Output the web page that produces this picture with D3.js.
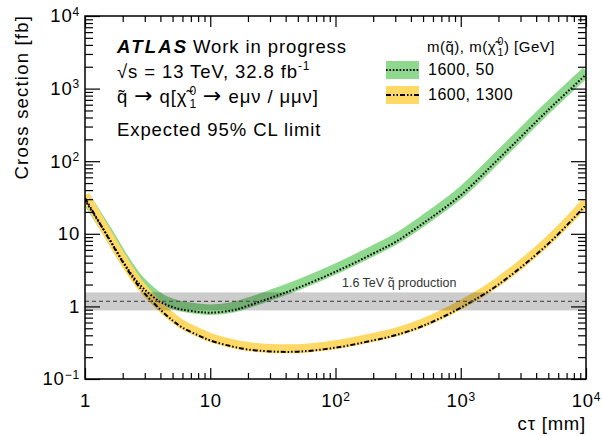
<!DOCTYPE html>
<html>
<head>
<meta charset="utf-8">
<script src="https://cdn.jsdelivr.net/npm/d3@7"></script>
<style>
  html, body { margin: 0; padding: 0; background: #fff; overflow: hidden; }
  svg { display: block; }
  text { font-family: "Liberation Sans", Arial, Helvetica, sans-serif; }
  .arr { font-family: "DejaVu Sans", sans-serif; }
</style>
</head>
<body>
<div id="chart"></div>
<script>
var width = 602
var height = 436
var margin = {top: 16, right: 16, bottom: 57, left: 85}
var innerWidth = width - margin.left - margin.right
var innerHeight = height - margin.top - margin.bottom

// expected limits (c*tau in mm, cross section in fb)
var ctau = [1, 1.5, 2, 2.5, 3, 4, 5, 6, 8, 10, 15, 20, 30, 50, 100, 200, 300, 500, 1000, 2000, 5000, 10000]
var limit50 = [29, 9.6, 4.2, 2.4, 1.7, 1.15, 0.98, 0.9, 0.84, 0.82, 0.88, 1.02, 1.3, 1.8, 3.0, 5.35, 7.7, 13.9, 34, 107, 510, 1560]
var limit1300 = [31, 9.4, 4.1, 2.25, 1.5, 0.9, 0.64, 0.51, 0.4, 0.34, 0.28, 0.255, 0.24, 0.238, 0.27, 0.34, 0.4, 0.54, 0.96, 2.0, 7.3, 25]
var seriesNames = ["1600, 50", "1600, 1300"]

// 1.6 TeV squark production cross section and its uncertainty
var xsecNominal = [1.17]
var xsecBand = [0.88, 1.56]

var xTicks = [1, 10, 100, 1000, 10000]
var xTickLabels = [["1", ""], ["10", ""], ["10", "2"], ["10", "3"], ["10", "4"]]
var yTicks = [0.1, 1, 10, 100, 1000, 10000]
var yTickLabels = [["10", "\u22121"], ["1", ""], ["10", ""], ["10", "2"], ["10", "3"], ["10", "4"]]

var minorOf = function(majors) {
  var out = []
  majors.slice(0, -1).forEach(function(d) {
    for (var m = 2; m < 10; m++) out.push(d * m)
  })
  return out
}

var svg = d3.select("#chart").append("svg")
    .attr("width", width)
    .attr("height", height)

var g = svg.append("g")
    .attr("transform", `translate(${margin.left},${margin.top})`)

var x = d3.scaleLog().domain([1, 1e4]).range([0, innerWidth])
var y = d3.scaleLog().domain([0.1, 1e4]).range([innerHeight, 0])

g.append("clipPath").attr("id", "clip")
  .append("rect").attr("width", innerWidth).attr("height", innerHeight)

var plot = g.append("g").attr("clip-path", "url(#clip)")

var line = d3.line()
    .x(d => x(d[0]))
    .y(d => y(d[1]))
    .curve(d3.curveCatmullRom)

var pts50 = ctau.map((c, i) => [c, limit50[i]])
var pts1300 = ctau.map((c, i) => [c, limit1300[i]])

var green = "#8fd98f", yellow = "#ffd966"
var dot50 = "1.6,1.8", dash1300 = "5,2,1.5,2,1.5,2"

// bands (sit mostly above the expected line)
plot.append("path").datum(pts50).attr("d", line)
    .attr("transform", "translate(0.5,-3)")
    .attr("fill", "none").attr("stroke", green).attr("stroke-width", 10.5)
plot.append("path").datum(pts1300).attr("d", line)
    .attr("transform", "translate(0,-3)")
    .attr("fill", "none").attr("stroke", yellow).attr("stroke-width", 9)

// central lines
plot.append("path").datum(pts50).attr("d", line)
    .attr("fill", "none").attr("stroke", "#000").attr("stroke-width", 2)
    .attr("stroke-dasharray", dot50)
plot.append("path").datum(pts1300).attr("d", line)
    .attr("fill", "none").attr("stroke", "#000").attr("stroke-width", 2)
    .attr("stroke-dasharray", dash1300)

// theory cross section band
plot.append("rect")
    .attr("x", 0).attr("width", innerWidth)
    .attr("y", y(xsecBand[1]))
    .attr("height", y(xsecBand[0]) - y(xsecBand[1]))
    .attr("fill", "#000").attr("fill-opacity", 0.2)
plot.selectAll(".xsec").data(xsecNominal).enter().append("line")
    .attr("x1", 0).attr("x2", innerWidth)
    .attr("y1", d => y(d)).attr("y2", d => y(d))
    .attr("stroke", "#555").attr("stroke-width", 1.2)
    .attr("stroke-dasharray", "4,3")

g.append("text")
    .attr("x", 342 - margin.left).attr("y", 287 - margin.top)
    .attr("font-size", 12.5).attr("fill", "#333")
    .text("1.6 TeV q\u0303 production")

// axes, ROOT style: ticks inside on all four sides
var styleAxis = function(sel) {
  sel.select(".domain").remove()
  sel.selectAll(".tick line").attr("stroke", "#000").attr("stroke-width", 1.2)
}
var noLabels = function(sel) {
  sel.selectAll(".tick text").remove()
}
var supLabels = function(sel, labels, vals) {
  sel.selectAll(".tick text").each(function(d) {
    var lab = labels[vals.indexOf(d)]
    var t = d3.select(this).text(null)
        .attr("font-size", 18.5).attr("letter-spacing", 0.8)
        .attr("fill", "#000")
    t.append("tspan").text(lab[0])
    if (lab[1]) t.append("tspan").attr("font-size", 12).attr("dy", "-0.55em").text(lab[1])
  })
}

g.append("g").attr("transform", `translate(0,${innerHeight})`)
    .call(d3.axisBottom(x).tickValues(xTicks).tickSize(-11).tickSizeOuter(0).tickPadding(15))
    .call(styleAxis)
    .call(sel => supLabels(sel, xTickLabels, xTicks))
g.append("g").attr("transform", `translate(0,${innerHeight})`)
    .call(d3.axisBottom(x).tickValues(minorOf(xTicks)).tickSize(-6).tickSizeOuter(0))
    .call(styleAxis).call(noLabels)
g.append("g")
    .call(d3.axisTop(x).tickValues(xTicks).tickSize(-11).tickSizeOuter(0))
    .call(styleAxis).call(noLabels)
g.append("g")
    .call(d3.axisTop(x).tickValues(minorOf(xTicks)).tickSize(-6).tickSizeOuter(0))
    .call(styleAxis).call(noLabels)

g.append("g")
    .call(d3.axisLeft(y).tickValues(yTicks).tickSize(-15).tickSizeOuter(0).tickPadding(5))
    .call(styleAxis)
    .call(sel => supLabels(sel, yTickLabels, yTicks))
g.append("g")
    .call(d3.axisLeft(y).tickValues(minorOf(yTicks)).tickSize(-8).tickSizeOuter(0))
    .call(styleAxis).call(noLabels)
g.append("g").attr("transform", `translate(${innerWidth},0)`)
    .call(d3.axisRight(y).tickValues(yTicks).tickSize(-15).tickSizeOuter(0))
    .call(styleAxis).call(noLabels)
g.append("g").attr("transform", `translate(${innerWidth},0)`)
    .call(d3.axisRight(y).tickValues(minorOf(yTicks)).tickSize(-8).tickSizeOuter(0))
    .call(styleAxis).call(noLabels)

g.append("rect")
    .attr("width", innerWidth).attr("height", innerHeight)
    .attr("fill", "none").attr("stroke", "#000").attr("stroke-width", 1.5)

// axis titles
svg.append("text")
    .attr("transform", "translate(28,15) rotate(-90)")
    .attr("text-anchor", "end")
    .attr("font-size", 18.5).attr("letter-spacing", 1.2)
    .text("Cross section [fb]")
svg.append("text")
    .attr("x", 586).attr("y", 430)
    .attr("text-anchor", "end")
    .attr("font-size", 18.5).attr("letter-spacing", 0.8)
    .text("c\u03c4 [mm]")

// labels top left
var lab = svg.append("g").attr("font-size", 18.5).attr("letter-spacing", 0.9)
lab.append("text").attr("x", 117).attr("y", 53).attr("letter-spacing", 2.2)
    .attr("font-weight", "bold").attr("font-style", "italic").text("ATLAS")
lab.append("text").attr("x", 193).attr("y", 53).text("Work in progress")
var l2 = lab.append("text").attr("x", 117).attr("y", 78)
l2.append("tspan").text("\u221as = 13 TeV, 32.8 fb")
l2.append("tspan").attr("font-size", 12).attr("dy", -8).text("-1")
var l3 = lab.append("text").attr("x", 117).attr("y", 103)
l3.append("tspan").text("q\u0303 ")
l3.append("tspan").attr("class", "arr").attr("font-size", 22).text("\u2192")
l3.append("tspan").text(" q[\u03c7\u0303")
l3.append("tspan").attr("font-size", 12).attr("dx", 2).attr("dy", 5).text("1")
l3.append("tspan").attr("font-size", 12).attr("dx", -7.6).attr("dy", -13).text("0")
l3.append("tspan").attr("dy", 8).text(" ")
l3.append("tspan").attr("class", "arr").attr("font-size", 22).text("\u2192")
l3.append("tspan").text(" e\u03bc\u03bd / \u03bc\u03bc\u03bd]")
lab.append("text").attr("x", 117).attr("y", 136).text("Expected 95% CL limit")

// legend
var leg = svg.append("g").attr("letter-spacing", 0.5)
var h = leg.append("text").attr("x", 427).attr("y", 52).attr("font-size", 15)
h.append("tspan").text("m(q\u0303), m(\u03c7\u0303")
h.append("tspan").attr("font-size", 10.5).attr("dx", 1.5).attr("dy", 4).text("1")
h.append("tspan").attr("font-size", 10.5).attr("dx", -6.3).attr("dy", -11).text("0")
h.append("tspan").attr("dy", 7).text(") [GeV]")

var legColors = [green, yellow]
var legDash = [dot50, dash1300]
seriesNames.forEach(function(name, i) {
  var yy = 61 + i * 25
  leg.append("rect").attr("x", 386).attr("y", yy).attr("width", 33).attr("height", 18)
      .attr("fill", legColors[i])
  leg.append("line").attr("x1", 386).attr("x2", 419).attr("y1", yy + 9).attr("y2", yy + 9)
      .attr("stroke", "#000").attr("stroke-width", 2).attr("stroke-dasharray", legDash[i])
  leg.append("text").attr("x", 428).attr("y", yy + 14).attr("font-size", 16).text(name)
})
</script>
</body>
</html>
